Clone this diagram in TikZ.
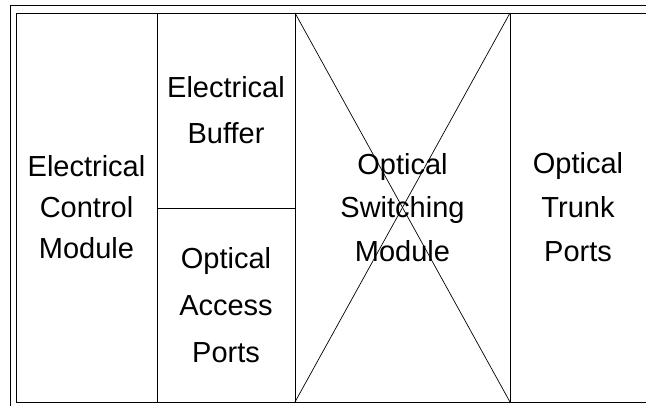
\documentclass[tikz,border=0pt]{standalone}
\usepackage{fontspec}
\setmainfont{Liberation Sans}
\begin{document}
\begin{tikzpicture}[x=1pt, y=-1pt,
  cell/.style={inner sep=0pt, outer sep=0pt, align=center, text=black},
  rule/.style={draw=black, line width=0.9pt},
  thinrule/.style={draw=black, line width=0.7pt}]
  \useasboundingbox (0,0) rectangle (646,406);

  % module cells (text only; borders drawn below)
  \node[cell, minimum width=141pt, minimum height=389pt,
        font=\fontsize{29}{41}\selectfont] (ecm) at (86.5,207.5)
        {Electrical\\Control\\Module};
  \node[cell, minimum width=138pt, minimum height=195pt,
        font=\fontsize{29}{46}\selectfont] (ebuf) at (226,110.5)
        {Electrical\\Buffer};
  \node[cell, minimum width=138pt, minimum height=194pt,
        font=\fontsize{29}{47}\selectfont] (oap) at (226,305)
        {Optical\\Access\\Ports};
  \node[cell, minimum width=215pt, minimum height=389pt,
        font=\fontsize{29}{43.5}\selectfont] (osm) at (402.5,207.5)
        {Optical\\Switching\\Module};
  \node[cell, minimum width=136pt, minimum height=389pt,
        font=\fontsize{29}{44}\selectfont] (otp) at (578,207.5)
        {Optical\\Trunk\\Ports};

  % outer frame edge
  \coordinate (fbl) at (10,406);
  \coordinate (ftl) at (10,5);
  \coordinate (ftr) at (646,5);
  \draw[rule] (fbl) -- (ftl) -- (ftr);

  % inner frame
  \draw[rule] (ecm.north west) -- (otp.north east);
  \draw[rule] (ecm.south west) -- (otp.south east);
  \draw[rule] (ecm.north west) -- (ecm.south west);

  % column dividers
  \draw[rule] (ecm.north east) -- (ecm.south east);
  \draw[rule] (osm.north west) -- (osm.south west);
  \draw[rule] (osm.north east) -- (osm.south east);

  % buffer / access ports divider
  \draw[rule] (ebuf.south west) -- (ebuf.south east);

  % crossed switching module
  \draw[thinrule] (osm.north west) -- (osm.south east);
  \draw[thinrule] (osm.north east) -- (osm.south west);
\end{tikzpicture}
\end{document}
